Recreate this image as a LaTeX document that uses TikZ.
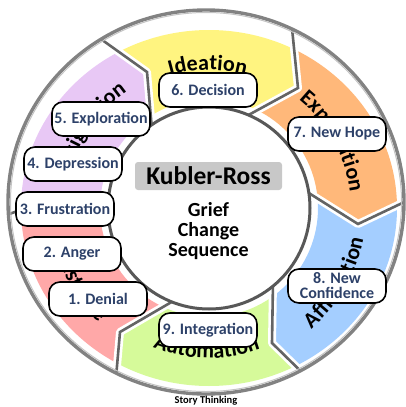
\documentclass[tikz,border=0pt]{standalone}
\usepackage{fontspec}
\setmainfont{Carlito}
\usetikzlibrary{decorations.text}

\definecolor{segyellow}{RGB}{255,244,128}
\definecolor{segorange}{RGB}{255,184,122}
\definecolor{segblue}{RGB}{164,206,255}
\definecolor{seggreen}{RGB}{214,250,154}
\definecolor{segred}{RGB}{255,168,168}
\definecolor{segpurple}{RGB}{232,200,245}
\definecolor{sepgray}{RGB}{100,100,100}
\definecolor{ringgray}{RGB}{130,130,130}
\definecolor{ringlight}{RGB}{195,195,195}
\definecolor{hubgray}{RGB}{88,88,88}
\definecolor{titlegray}{RGB}{200,200,200}
\definecolor{boxblue}{RGB}{45,65,105}

\newcommand\seglabel{\fontsize{22}{22}\selectfont\bfseries}

% fill one coloured band piece between two chevron separators
\newcommand\bandpiece[3]{%
  \begin{scope}
    \clip (C) -- (#2in) -- (#2ap) -- (#2out) -- (#2far) -- (#3far)
          -- (#3out) -- (#3ap) -- (#3in) -- cycle;
    \fill[#1, even odd rule] (209,-208) ellipse[x radius=188, y radius=178]
          (209,-208) circle[radius=109];
  \end{scope}}

% one chevron separator: white margin, grey line
\newcommand\separator[1]{%
  \draw[white, line width=8, line join=round] (#1in) -- (#1ap) -- (#1out);
  \draw[sepgray, line width=2.6, line join=miter] (#1in) -- (#1ap) -- (#1out);}

\begin{document}
\begin{tikzpicture}[x=1pt, y=1pt,
  stagebox/.style={draw=black, line width=1.6, fill=white, rounded corners=11,
    minimum width=98, minimum height=34, inner sep=0, align=center,
    text=boxblue, font=\fontsize{16}{15}\selectfont\bfseries},
  arclabel/.style={decorate, decoration={text along path, text align=center,
    text={|\seglabel|#1}}}]
\useasboundingbox (0,0) rectangle (405,-407);

\coordinate (C) at (209,-208);

% chevron separators: inner end, apex, outer end, far point
\coordinate (b0in) at (304,-190);  \coordinate (b0ap) at (358,-224);
\coordinate (b0out) at (415,-197); \coordinate (b0far) at (509,-200);
\coordinate (b1in) at (273,-282);  \coordinate (b1ap) at (272,-343);
\coordinate (b1out) at (320,-390); \coordinate (b1far) at (365,-464);
\coordinate (b2in) at (175,-300);  \coordinate (b2ap) at (120,-332);
\coordinate (b2out) at (114,-400); \coordinate (b2far) at (76,-477);
\coordinate (b3in) at (112,-214);  \coordinate (b3ap) at (58,-196);
\coordinate (b3out) at (4,-216);   \coordinate (b3far) at (-91,-220);
\coordinate (b4in) at (152,-130);  \coordinate (b4ap) at (147,-72);
\coordinate (b4out) at (91,-32);   \coordinate (b4far) at (42,41);
\coordinate (b5in) at (243,-118);  \coordinate (b5ap) at (298,-88);
\coordinate (b5out) at (291,-18);  \coordinate (b5far) at (328,67);

% coloured band
\bandpiece{segyellow}{b4}{b5}
\bandpiece{segorange}{b5}{b0}
\bandpiece{segblue}{b0}{b1}
\bandpiece{seggreen}{b1}{b2}
\bandpiece{segred}{b2}{b3}
\bandpiece{segpurple}{b3}{b4}

% phase names along the band
\begin{scope}[shift={(209,-210)}]
  \path[arclabel=Ideation] (120:140) arc[start angle=120, end angle=61, radius=140];
  \path[arclabel=Expectation] (59:142) arc[start angle=59, end angle=-1, radius=142];
  \path[arclabel=Affirmation] (-60:157) arc[start angle=-60, end angle=0, radius=157];
  \path[arclabel=Automation] (-121:148) arc[start angle=-121, end angle=-61, radius=148];
  \path[arclabel=Resistance] (176:158) arc[start angle=176, end angle=240, radius=158];
  \path[arclabel=Resignation] (178:144) arc[start angle=178, end angle=114, radius=144];
\end{scope}

% separators, clipped to the outer ring
\begin{scope}
  \clip (206,-202) ellipse[x radius=198, y radius=192];
  \separator{b0}\separator{b1}\separator{b2}
  \separator{b3}\separator{b4}\separator{b5}
\end{scope}

% outer ring and hub
\draw[ringgray, line width=3.4] (206,-202) ellipse[x radius=198, y radius=192];
\draw[ringlight, line width=1] (206,-202) ellipse[x radius=195.5, y radius=189.5];
\filldraw[fill=white, draw=hubgray, line width=3] (C) circle[radius=101];

% hub text
\node[fill=titlegray, rounded corners=3, minimum width=147, minimum height=28,
  inner sep=0, font=\fontsize{25.5}{25.5}\selectfont\bfseries] (title) at (208.5,-176) {Kubler-Ross};
\node[anchor=base, inner sep=0, font=\fontsize{20}{20}\selectfont\bfseries] (grief) at (208.5,-216) {Grief};
\node[anchor=base, inner sep=0, font=\fontsize{20}{20}\selectfont\bfseries] (change) at (208.5,-236) {Change};
\node[anchor=base, inner sep=0, font=\fontsize{20}{20}\selectfont\bfseries] (sequence) at (208.5,-256) {Sequence};

% stages
\node[stagebox] (s1) at (98,-299) {1. Denial};
\node[stagebox] (s2) at (72,-254) {2. Anger};
\node[stagebox] (s3) at (65,-209) {3. Frustration};
\node[stagebox] (s4) at (73,-164) {4. Depression};
\node[stagebox] (s5) at (101,-119) {5. Exploration};
\node[stagebox] (s6) at (208,-90) {6. Decision};
\node[stagebox] (s7) at (337,-134) {7. New Hope};
\node[stagebox] (s8) at (337,-286) {8. New\\Confidence};
\node[stagebox] (s9) at (208,-330) {9. Integration};

% credit
\node[inner sep=0, font=\fontsize{10.5}{10.5}\selectfont\bfseries] (credit) at (206,-401) {Story Thinking};
\end{tikzpicture}
\end{document}
